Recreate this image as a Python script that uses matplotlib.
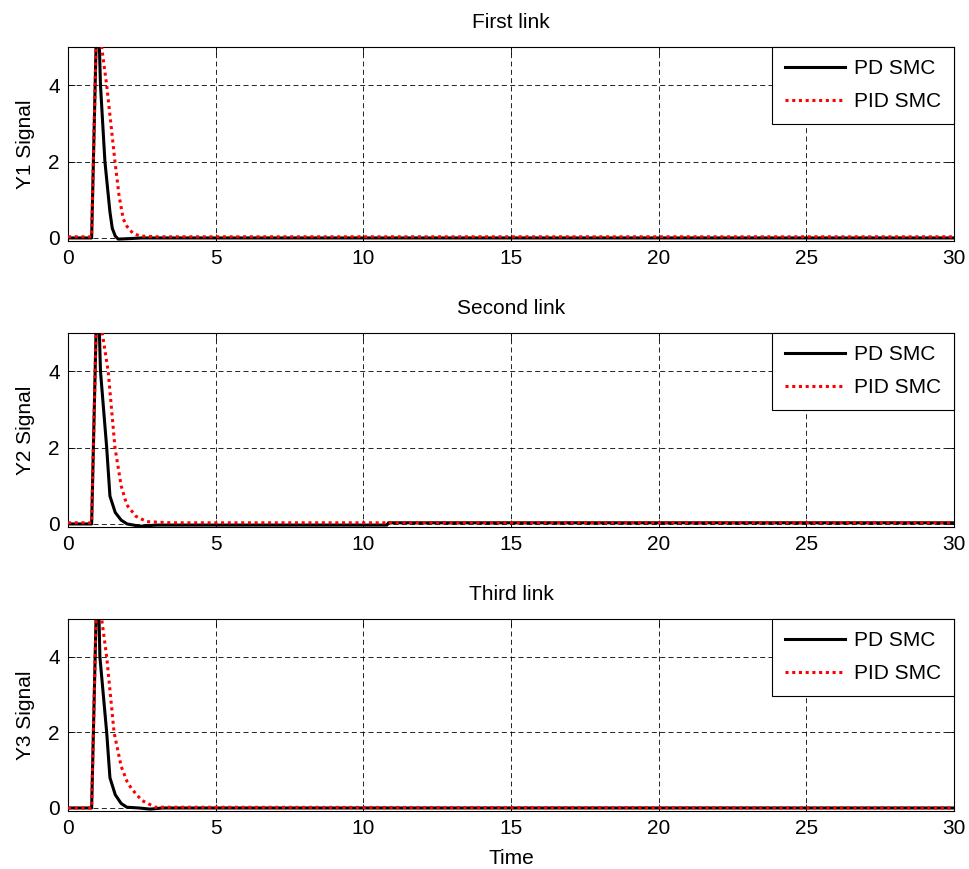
import matplotlib
matplotlib.use("Agg")
import matplotlib.pyplot as plt

plt.rcParams['font.family'] = ['Liberation Sans', 'DejaVu Sans']

titles = ["First link", "Second link", "Third link"]
ylabels = ["Y1 Signal", "Y2 Signal", "Y3 Signal"]
series_names = ["PD SMC", "PID SMC"]

# Panel 1
t1_pd = [0, 0.8, 1.0, 1.1, 1.25, 1.42, 1.5, 1.6, 1.7, 2.0, 2.5, 30]
y1_pd = [0.0, 0.0, 6.7, 4.0, 2.0, 0.68, 0.25, 0.05, -0.03, -0.02, 0.0, 0.0]
t1_pid = [0, 0.8, 1.0, 1.14, 1.31, 1.45, 1.59, 1.73, 1.87, 2.0, 2.2, 2.44, 3.0, 30]
y1_pid = [0.03, 0.03, 6.7, 5.0, 4.0, 3.0, 2.0, 1.1, 0.5, 0.3, 0.12, 0.05, 0.03, 0.03]

# Panel 2
t2_pd = [0, 0.8, 1.0, 1.1, 1.31, 1.42, 1.6, 1.8, 2.0, 2.44, 3.0, 10.8, 10.85, 30]
y2_pd = [0.0, 0.0, 6.7, 4.0, 2.0, 0.73, 0.3, 0.1, 0.0, -0.06, -0.03, -0.03, 0.03, 0.03]
t2_pid = [0, 0.8, 1.0, 1.16, 1.36, 1.59, 1.8, 1.99, 2.3, 2.67, 3.5, 30]
y2_pid = [0.03, 0.03, 6.7, 5.0, 4.0, 2.0, 1.0, 0.5, 0.2, 0.06, 0.03, 0.03]

# Panel 3
t3_pd = [0, 0.8, 1.0, 1.08, 1.31, 1.42, 1.6, 1.8, 1.99, 2.4, 2.78, 3.2, 30]
y3_pd = [0.0, 0.0, 6.7, 4.0, 2.0, 0.8, 0.35, 0.12, 0.02, 0.0, -0.03, 0.0, 0.0]
t3_pid = [0, 0.8, 1.0, 1.14, 1.31, 1.56, 1.8, 2.0, 2.16, 2.5, 2.95, 30]
y3_pid = [0.0, 0.0, 6.7, 5.0, 4.0, 2.0, 1.1, 0.7, 0.5, 0.2, 0.02, 0.0]

data = [(t1_pd, y1_pd, t1_pid, y1_pid),
        (t2_pd, y2_pd, t2_pid, y2_pid),
        (t3_pd, y3_pd, t3_pid, y3_pid)]

xticks = [0, 5, 10, 15, 20, 25, 30]
yticks = [0, 2, 4]

W, H = 969, 869
fig = plt.figure(figsize=(W / 100, H / 100), dpi=100)

left = 68 / W
width = (954 - 68) / W
panels = [(47, 241), (333, 527), (619, 811)]
FS = 15

for i, (top, bot) in enumerate(panels):
    ax = fig.add_axes([left, 1 - bot / H, width, (bot - top) / H])
    tp, yp, ti, yi = data[i]
    ax.plot(tp, yp, color='k', lw=2.2, label=series_names[0], zorder=3)
    ax.plot(ti, yi, color='red', lw=2.2, linestyle=(0, (1, 1.2)), label=series_names[1], zorder=4)
    ax.set_xlim(0, 30)
    ax.set_ylim(-0.08, 5)
    ax.set_xticks(xticks)
    ax.set_yticks(yticks)
    ax.grid(True, color='k', lw=0.6, linestyle=(0, (6, 4)))
    ax.tick_params(direction='in', top=True, right=True, labelsize=FS, length=5, width=0.6, pad=6)
    for s in ax.spines.values():
        s.set_linewidth(0.8)
    ax.set_title(titles[i], fontsize=FS, pad=14)
    ax.set_ylabel(ylabels[i], fontsize=FS, labelpad=9)
    leg = ax.legend(loc='upper right', borderaxespad=0, fancybox=False, fontsize=FS,
                    edgecolor='k', handlelength=2.9, framealpha=1, borderpad=0.6,
                    labelspacing=0.65, handletextpad=0.45)
    leg.get_frame().set_linewidth(0.8)
    if i == 2:
        ax.set_xlabel("Time", fontsize=FS, labelpad=8)

fig.savefig("out.png", dpi=100)
